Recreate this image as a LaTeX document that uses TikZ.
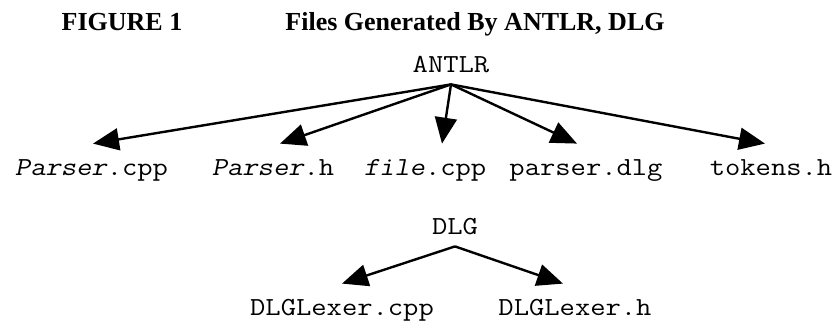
\documentclass[tikz,border=0pt]{standalone}
\usepackage{fontspec}
\setmainfont{Liberation Serif}
\setmonofont{Latin Modern Mono}[FakeStretch=1.143, ItalicFont=Latin Modern Mono, ItalicFeatures={FakeSlant=0.2}]
\usetikzlibrary{arrows.meta}

\begin{document}
\begin{tikzpicture}[x=0.5pt,y=-0.5pt,
		caption/.style={font=\fontsize{13}{15}\selectfont\bfseries, inner sep=0pt, anchor=base},
		tool/.style={font=\fontsize{13}{15}\selectfont\ttfamily, inner xsep=0pt, inner ysep=3.5pt, text height=8pt, text depth=2.5pt, anchor=base},
		file/.style={font=\fontsize{13}{15}\selectfont\ttfamily, inner xsep=0pt, inner ysep=7.5pt, text height=8pt, text depth=2.5pt, anchor=base},
		gen/.style={-{Triangle[length=13pt,width=11pt]}, line width=1.2pt}]
			\useasboundingbox (0,0) rectangle (837,323);
			% title
			\node[caption] (fig) at (122,30) {FIGURE 1};
			\node[caption] (title) at (475,30) {Files Generated By ANTLR, DLG};
			% ANTLR and what it writes
			\node[tool] (antlr) at (451,72) {ANTLR};
			\node[file] (parsercpp) at (91.5,175) {\textit{Parser}.cpp};
			\node[file] (parserh) at (273,175) {\textit{Parser}.h};
			\node[file] (filecpp) at (425,175) {\textit{file}.cpp};
			\node[file] (parserdlg) at (586,175) {parser.dlg};
			\node[file] (tokensh) at (771,175) {tokens.h};
			\foreach \n/\s in {parsercpp/0.75pt,parserh/3.5pt,filecpp/8.5pt,parserdlg/-4.5pt,tokensh/-3pt}
				\draw[gen] (antlr.south) -- ([xshift=\s]\n.north);
			% DLG and what it writes
			\node[tool] (dlg) at (455,234) {DLG};
			\node[file] (lexcpp) at (342,315) {DLGLexer.cpp};
			\node[file] (lexh) at (575,315) {DLGLexer.h};
			\foreach \n/\s in {lexcpp/0pt,lexh/-6pt}
				\draw[gen] (dlg.south) -- ([xshift=\s]\n.north);
		\end{tikzpicture}
\end{document}
